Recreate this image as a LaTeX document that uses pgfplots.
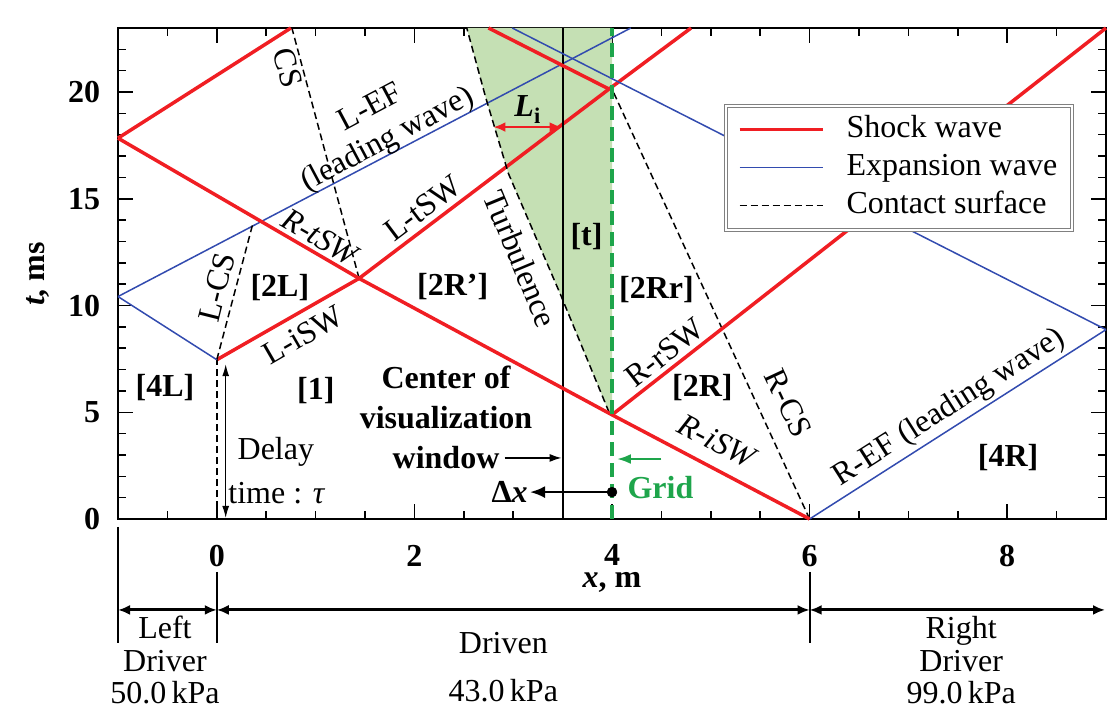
\documentclass[border=0pt]{standalone}
\usepackage{fontspec}
\setmainfont{Liberation Serif}
\usepackage{pgfplots}
\pgfplotsset{compat=1.18}
\usetikzlibrary{arrows.meta}
\definecolor{sred}{RGB}{240,30,35}
\definecolor{eblue}{RGB}{50,75,175}
\definecolor{gfill}{RGB}{197,224,180}
\definecolor{ggreen}{RGB}{30,165,75}
\begin{document}
\fontsize{32}{38}\selectfont
\begin{tikzpicture}
\useasboundingbox (0pt,0pt) rectangle (1107pt,704pt);
\begin{axis}[
  at={(118pt,185pt)}, anchor=south west,
  scale only axis, width=988pt, height=491pt,
  xmin=-1, xmax=9, ymin=0, ymax=23,
  clip=false,
  xtick={0,2,4,6,8}, minor xtick={-0.5,0,...,8.5},
  ytick={0,5,10,15,20}, minor ytick={1,2,...,22},
  major tick length=15pt, minor tick length=8pt,
  every tick/.append style={black, line width=1.5pt},
  axis line style={line width=2.5pt},
  tick label style={font=\fontsize{32}{38}\selectfont\bfseries},
  /pgf/number format/assume math mode=true,
  xticklabel style={yshift=-15pt},
  yticklabel style={xshift=-7pt},
  legend style={at={(axis cs:5.147,19.39)}, anchor=north west,
    draw=gray, line width=1pt, double=white, double distance=2pt,
    inner xsep=12pt, inner ysep=5pt,
    font=\fontsize{32}{38}\selectfont,
    nodes={inner sep=3pt, text height=24pt, text depth=8pt},
    row sep=0pt},
  legend cell align=left,
  legend image code/.code={\draw[#1] (0pt,0pt) -- (83pt,0pt); \path[draw=none] (0pt,0pt) (104pt,0pt);},
]
% turbulence region
\addplot[draw=none, fill=gfill, forget plot] coordinates {(4,4.88) (3.97,5.0) (3.48,10.5) (2.95,16.2) (2.72,19.77) (2.53,23) (4,23)} -- cycle;

\addplot[sred, line width=3.5pt] coordinates {(0,7.46) (1.44,11.27) (3.97,20.14) (4.80,23)};
\addlegendentry{Shock wave}
\addplot[eblue, line width=1.5pt] coordinates {(-1,10.42) (4.19,23)};
\addlegendentry{Expansion wave}
\addplot[black, line width=1.5pt, dash pattern=on 7pt off 4pt] coordinates {(1.44,11.27) (0.76,23)};
\addlegendentry{Contact surface}

% vertical lines
\addplot[black, line width=2pt, forget plot] coordinates {(3.5,0) (3.5,23)};

% contact surfaces
\addplot[black, line width=1.5pt, dash pattern=on 7pt off 4pt, forget plot] coordinates {(0,0) (0,7.46)};
\addplot[black, line width=1.5pt, dash pattern=on 7pt off 4pt, forget plot] coordinates {(0,7.46) (0.36,13.75)};
\addplot[black, line width=1.5pt, dash pattern=on 7pt off 4pt, forget plot] coordinates {(3.97,5.0) (3.48,10.5) (2.95,16.2) (2.72,19.77) (2.53,23)};
\addplot[black, line width=1.5pt, dash pattern=on 7pt off 4pt, forget plot] coordinates {(6,0) (4.0,20.14)};

% expansion waves
\addplot[eblue, line width=1.5pt, forget plot] coordinates {(-1,10.42) (0,7.46)};
\addplot[eblue, line width=1.5pt, forget plot] coordinates {(2.99,23) (9,8.87)};
\addplot[eblue, line width=1.5pt, forget plot] coordinates {(6,0) (9,8.87)};

% shock waves
\addplot[sred, line width=3.5pt, forget plot] coordinates {(6,0) (4,4.88) (1.44,11.27) (-1,17.84)};
\addplot[sred, line width=3.5pt, forget plot] coordinates {(-1,17.84) (0.75,23)};
\addplot[sred, line width=3.5pt, forget plot] coordinates {(4,4.88) (9,23)};
\addplot[sred, line width=3.5pt, forget plot] coordinates {(2.75,23) (3.97,20.14)};

% grid line
\addplot[ggreen, line width=4.5pt, dash pattern=on 14pt off 7pt, forget plot] coordinates {(4,0) (4,23)};
\addplot[only marks, mark=*, mark size=5pt, black, forget plot] coordinates {(4,1.26)};

% arrows
\draw[-{Latex[length=15pt,width=12pt]}, line width=2.5pt] (axis cs:4,1.26) -- (axis cs:3.17,1.26);
\draw[-{Latex[length=12pt,width=8pt]}, line width=1.5pt] (axis cs:2.913,2.86) -- (axis cs:3.49,2.86);
\draw[ggreen, -{Latex[length=14pt,width=10pt]}, line width=2.5pt] (axis cs:4.50,2.81) -- (axis cs:4.05,2.81);
\draw[{Latex[length=12pt,width=7pt]}-{Latex[length=12pt,width=7pt]}, line width=1.2pt] (axis cs:0.09,0.05) -- (axis cs:0.09,7.25);
\draw[sred, line width=2.5pt, {Latex[length=12pt,width=10pt]}-{Latex[length=12pt,width=10pt]}] (axis cs:2.80,18.36) -- (axis cs:3.49,18.36);

% labels
\node[rotate=-75] at (axis cs:0.719,21.13) {CS};
\node[rotate=28, align=center, font=\fontsize{32}{36}\selectfont] at (axis cs:1.649,18.46) {L-EF\\(leading wave)};
\node[rotate=-30, font=\itshape] at (axis cs:1.042,13.21) {R-tSW};
\node[rotate=37] at (axis cs:2.084,14.57) {L-tSW};
\node[rotate=76] at (axis cs:0.0,10.87) {L-CS};
\node[font=\bfseries] at (axis cs:0.638,10.82) {[2L]};
\node[font=\bfseries] at (axis cs:2.387,10.87) {[2R’]};
\node[rotate=-67.5] at (axis cs:3.075,12.18) {Turbulence};
\node[font=\bfseries] at (axis cs:3.742,13.21) {[t]};
\node[font=\bfseries] at (axis cs:4.45,10.73) {[2Rr]};
\node[rotate=30] at (axis cs:0.871,8.62) {L-iSW};
\node[font=\bfseries] at (axis cs:-0.525,6.14) {[4L]};
\node[font=\bfseries] at (axis cs:1.002,6.04) {[1]};
\node[rotate=38] at (axis cs:4.531,7.78) {R-rSW};
\node[font=\bfseries] at (axis cs:4.915,6.14) {[2R]};
\node[rotate=-28, font=\itshape] at (axis cs:5.057,3.65) {R-iSW};
\node[rotate=-65] at (axis cs:5.785,5.43) {R-CS};
\node[rotate=32.5] at (axis cs:7.413,5.20) {R-EF (leading wave)};
\node[font=\bfseries] at (axis cs:8.009,2.90) {[4R]};
\node at (axis cs:0.598,3.14) {Delay};
\node at (axis cs:0.608,1.22) {time : \textit{τ}};
\node[align=center, font=\fontsize{32}{40}\selectfont\bfseries] at (axis cs:2.32,4.75) {Center of\\visualization\\window};
\node[text=ggreen, font=\bfseries] at (axis cs:4.49,1.45) {Grid};
\node[font=\bfseries] at (axis cs:2.963,1.26) {Δ\textit{x}};
\node[font=\bfseries] at (axis cs:3.146,19.16) {\textit{L}\textsubscript{i}};

% axis labels
\node[font=\bfseries] at (axis cs:4.0,-2.95) {\textit{x}, m};
\node[font=\bfseries, rotate=90] at (axis cs:-1.809,11.48) {\textit{t}, ms};

% bottom annotation
\draw[line width=2pt] (axis cs:-1,-0.37) -- (axis cs:-1,-5.81);
\draw[line width=2pt] (axis cs:0,-2.48) -- (axis cs:0,-5.81);
\draw[line width=2pt] (axis cs:6,-2.48) -- (axis cs:6,-5.81);
\draw[line width=3pt, {Latex[length=12pt,width=10pt]}-{Latex[length=12pt,width=10pt]}] (axis cs:-1,-4.26) -- (axis cs:0,-4.26);
\draw[line width=3pt, {Latex[length=12pt,width=10pt]}-{Latex[length=12pt,width=10pt]}] (axis cs:0,-4.26) -- (axis cs:6,-4.26);
\draw[line width=3pt, {Latex[length=12pt,width=10pt]}-{Latex[length=12pt,width=10pt]}] (axis cs:6,-4.26) -- (axis cs:8.99,-4.26);
\node[align=center, inner sep=1pt, font=\fontsize{32}{32.5}\selectfont] at (axis cs:-0.525,-6.62) {Left\\Driver\\50.0\,kPa};
\node[inner sep=1pt] at (axis cs:2.90,-5.81) {Driven};
\node[inner sep=1pt] at (axis cs:2.90,-8.05) {43.0\,kPa};
\node[align=center, inner sep=1pt, font=\fontsize{32}{32.5}\selectfont] at (axis cs:7.534,-6.62) {Right\\Driver\\99.0\,kPa};
\end{axis}
\end{tikzpicture}
\end{document}
